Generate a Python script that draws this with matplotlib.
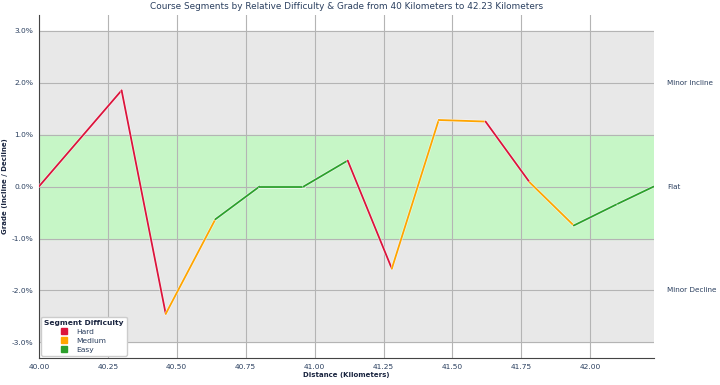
import matplotlib.pyplot as plt
from matplotlib.patches import Patch
import matplotlib.patheffects as pe

# distance (km) and grade (%) at each segment break
distance = [40.00, 40.30, 40.46, 40.64, 40.80, 40.96, 41.12, 41.28,
            41.45, 41.62, 41.78, 41.94, 42.10, 42.23]
grade = [0.0, 1.85, -2.45, -0.63, 0.0, 0.0, 0.5, -1.58,
         1.28, 1.25, 0.08, -0.75, -0.33, 0.0]
# difficulty of the segment that ends at each point (after the first)
difficulty = ['Hard', 'Hard', 'Medium', 'Easy', 'Easy', 'Easy', 'Hard',
              'Medium', 'Medium', 'Hard', 'Medium', 'Easy', 'Easy']

colors = {'Hard': '#DC143C', 'Medium': '#FFA500', 'Easy': '#2CA02C'}
text_col = '#2a3f5f'

zone_labels = ['Minor Incline', 'Flat', 'Minor Decline']
zone_y = [2.0, 0.0, -2.0]
y_ticks = [-3, -2, -1, 0, 1, 2, 3]
x_ticks = [40.0, 40.25, 40.5, 40.75, 41.0, 41.25, 41.5, 41.75, 42.0]

fig, ax = plt.subplots(figsize=(7.2, 3.85), dpi=100)
fig.subplots_adjust(left=0.054, right=0.908, top=0.961, bottom=0.07)

ax.axhspan(-3, 3, color='#E8E8E8', zorder=0)
ax.axhspan(-1, 1, color='#C6F6C6', zorder=0)

for i in range(len(difficulty)):
    ax.plot(distance[i:i + 2], grade[i:i + 2], color=colors[difficulty[i]],
            lw=1.3, zorder=3, solid_capstyle='round',
            path_effects=[pe.Stroke(linewidth=2.2, foreground='white', alpha=0.6), pe.Normal()])

ax.set_xlim(40.0, 42.23)
ax.set_ylim(-3.3, 3.3)
ax.set_xticks(x_ticks)
ax.set_xticklabels(['%.2f' % t for t in x_ticks])
ax.set_yticks(y_ticks)
ax.set_yticklabels(['%.1f%%' % t for t in y_ticks])
ax.grid(True, color='#b4b4b4', lw=0.8, zorder=1)
ax.set_axisbelow(True)
ax.tick_params(labelsize=5.4, colors=text_col, length=0, pad=4)
for s in ['top', 'right']:
    ax.spines[s].set_visible(False)
for s in ['left', 'bottom']:
    ax.spines[s].set_color('#444444')

for lab, y in zip(zone_labels, zone_y):
    ax.text(1.022, y, lab, transform=ax.get_yaxis_transform(), fontsize=5.2,
            color=text_col, va='center', ha='left')

ax.set_title('Course Segments by Relative Difficulty & Grade from 40 Kilometers to 42.23 Kilometers',
             fontsize=6.4, color=text_col, pad=4)
ax.set_xlabel('Distance (Kilometers)', fontsize=5.0, fontweight='bold', color='#1a2540', labelpad=2)
ax.set_ylabel('Grade (Incline / Decline)', fontsize=5.0, fontweight='bold', color='#1a2540')
ax.yaxis.set_label_coords(-0.05, 0.5)

handles = [Patch(color=colors[k], label=k) for k in ['Hard', 'Medium', 'Easy']]
leg = ax.legend(handles=handles, title='Segment Difficulty', loc='lower left',
                fontsize=5.4, title_fontproperties={'weight': 'bold', 'size': 5.4},
                handlelength=0.8, handleheight=0.9, handletextpad=1.2, labelspacing=0.3,
                borderaxespad=0.3, framealpha=1, borderpad=0.4)
for t in leg.get_texts():
    t.set_color(text_col)
leg.get_title().set_color('#1a2540')

fig.savefig('out.png')
